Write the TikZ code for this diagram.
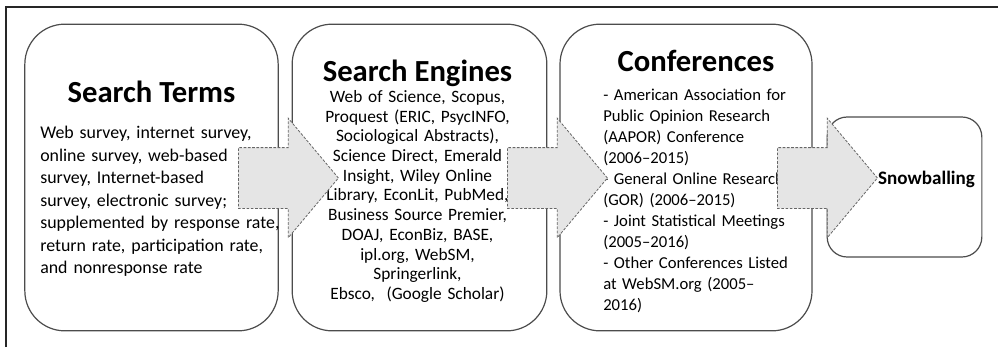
\documentclass[tikz,border=0pt]{standalone}
\usepackage{fontspec}
\setmainfont{Carlito}
\usetikzlibrary{shapes.arrows}

\tikzset{
 stagebox/.style={draw=black!70, line width=0.9pt, rounded corners=30pt, fill=white},
 flowarrow/.style={single arrow, single arrow head extend=22pt, single arrow tip angle=100,
   minimum height=75pt, inner xsep=0pt, inner ysep=22.5pt, anchor=tail,
   draw=black!60, dash pattern=on 2pt off 1.2pt, line width=0.6pt, fill=black!10},
 headtext/.style={font=\fontsize{23}{27}\selectfont\bfseries, inner sep=0pt, anchor=base},
 bodytext/.style={inner sep=0pt, text width=190pt},
}

\begin{document}
\begin{tikzpicture}[x=0.75pt,y=-0.75pt]
 \useasboundingbox (0,0) rectangle (998,347);
 % frame
 \draw[line width=1.5pt, black!85] (6,347) -- (6,7) -- (998,7);
 % the four stages
 \node[stagebox, minimum width=190pt, minimum height=230pt] (terms) at (151.5,177.5) {};
 \node[stagebox, minimum width=191pt, minimum height=230pt] (engines) at (419.5,177.5) {};
 \node[stagebox, minimum width=189pt, minimum height=230pt] (confs) at (686,177.5) {};
 \node[stagebox, rounded corners=15pt, minimum width=116pt, minimum height=105pt] (snow) at (904.5,187) {};
 % titles
 \node[headtext] (termsT) at (151.5,102) {Search Terms};
 \node[headtext] (enginesT) at (417.5,81) {Search Engines};
 \node[headtext] (confsT) at (696,71) {Conferences};
 \node[font=\fontsize{14.3}{17}\selectfont\bfseries, inner sep=0pt, anchor=base] (snowT) at (926.5,184) {Snowballing};
 % lists
 \node[bodytext, align=left, anchor=north west, font=\fontsize{13.4}{16.9}\selectfont] (termsB) at (40,126)
  {Web survey, internet survey,\\ online survey, web-based\\ survey, Internet-based\\ survey, electronic survey;\\
   supplemented by response rate,\\ return rate, participation rate,\\ and nonresponse rate};
 \node[bodytext, align=center, anchor=north, font=\fontsize{13}{14.8}\selectfont] (enginesB) at (417.5,90)
  {Web of Science, Scopus,\\ Proquest (ERIC, PsycINFO,\\ Sociological Abstracts),\\ Science Direct, Emerald\\
   Insight, Wiley Online\\ Library, EconLit, PubMed,\\ Business Source Premier,\\ DOAJ, EconBiz, BASE,\\
   ipl.org, WebSM,\\ Springerlink,\\ Ebsco,~ (Google Scholar)};
 \node[bodytext, align=left, anchor=north west, font=\fontsize{12.5}{15.7}\selectfont] (confsB) at (603,89)
  {- American Association for\\ Public Opinion Research\\ (AAPOR) Conference\\ (2006--2015)\\
   - General Online Research\\ (GOR) (2006--2015)\\ - Joint Statistical Meetings\\ (2005--2016)\\
   - Other Conferences Listed\\ at WebSM.org (2005--\\ 2016)};
 % block arrows between the stages
 \node[flowarrow] (toengines) at (238,178) {};
 \node[flowarrow] (toconfs) at (507,178) {};
 \node[flowarrow] (tosnow) at (777,178) {};
\end{tikzpicture}
\end{document}
